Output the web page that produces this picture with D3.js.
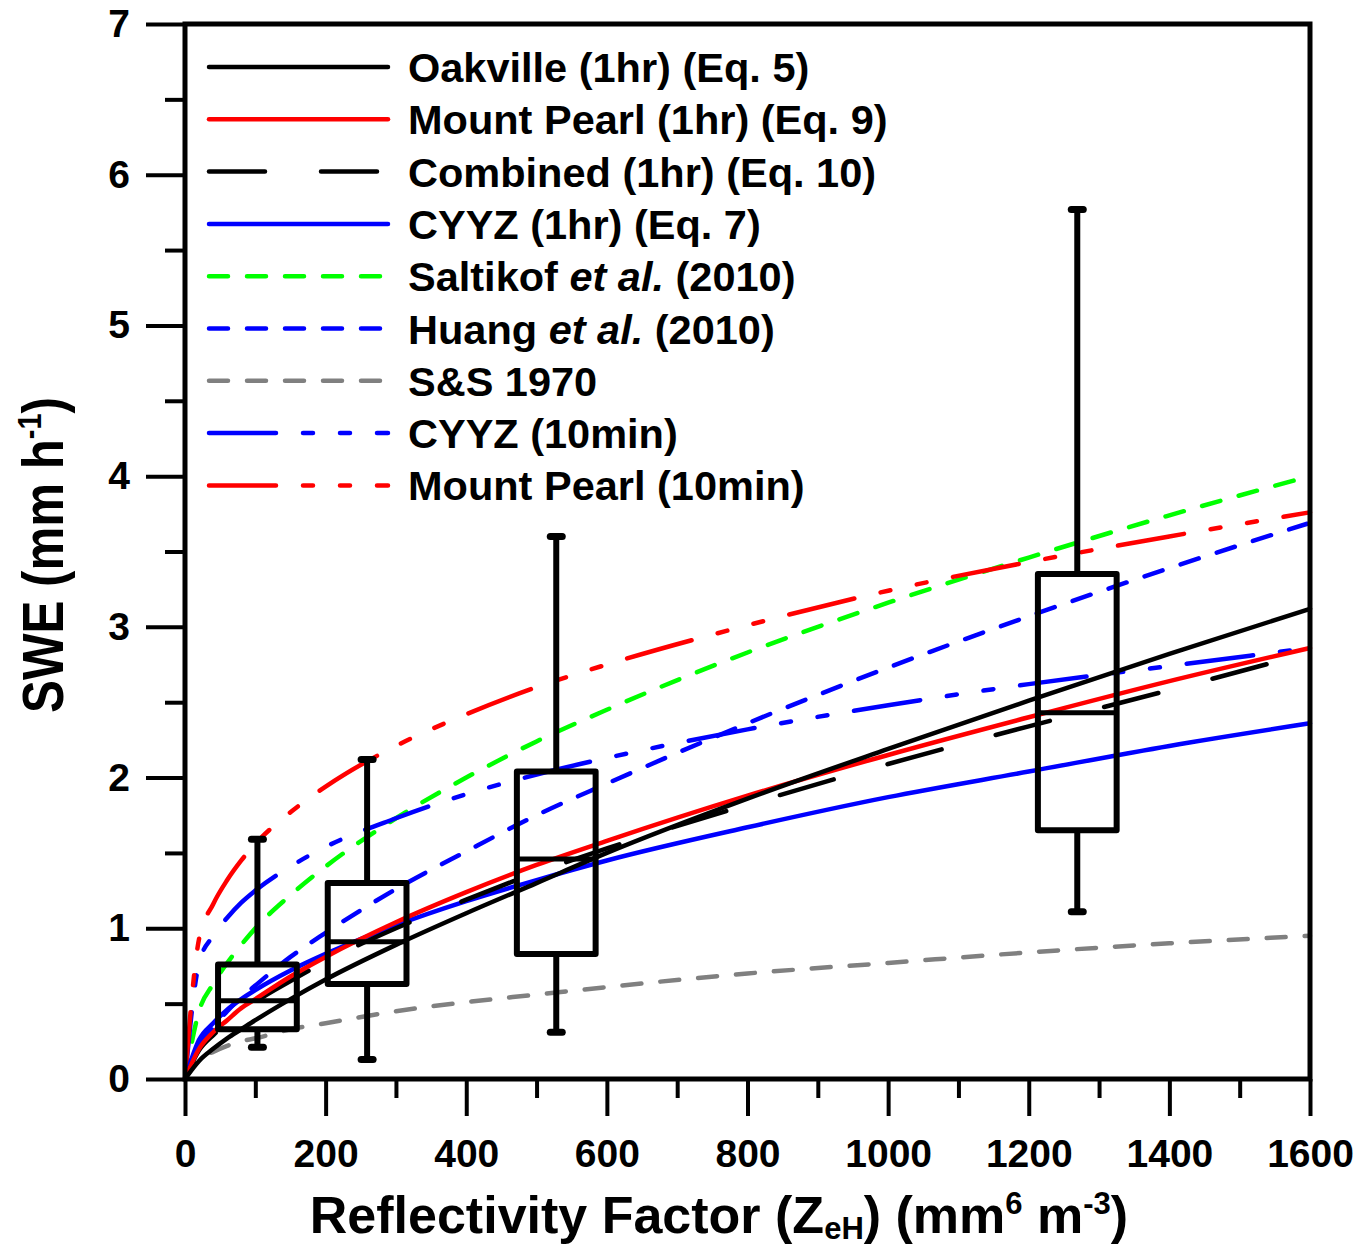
<!DOCTYPE html>
<html>
<head>
<meta charset="utf-8">
<script src="https://cdn.jsdelivr.net/npm/d3@7"></script>
<style>
    body { margin: 0; background: #fff; }
    text { font-family: "Liberation Sans", Arial, sans-serif; font-weight: bold; fill: #000; }
</style>
</head>
<body>
<div id="chart"></div>
<script>
// Reflectivity factor samples (mm6 m-3) at which the curves were read
const zGrid = [0, 20, 40, 60, 80, 100, 150, 200, 300, 400, 500, 600, 800, 1000, 1200, 1400, 1600];

// SWE (mm/h) at zGrid
const oakville1hr = [0, 0.12, 0.2, 0.27, 0.33, 0.39, 0.53, 0.66, 0.89, 1.1, 1.3, 1.5, 1.86, 2.19, 2.51, 2.82, 3.12];
const mountPearl1hr = [0, 0.2, 0.31, 0.39, 0.47, 0.53, 0.68, 0.81, 1.04, 1.24, 1.42, 1.58, 1.88, 2.15, 2.4, 2.64, 2.86];
const combined1hr = [0, 0.19, 0.29, 0.37, 0.44, 0.51, 0.65, 0.78, 1.0, 1.19, 1.37, 1.53, 1.82, 2.09, 2.34, 2.58, 2.83];
const cyyz1hr = [0, 0.26, 0.37, 0.46, 0.53, 0.59, 0.72, 0.83, 1.02, 1.18, 1.32, 1.45, 1.67, 1.87, 2.04, 2.21, 2.36];
const saltikof2010 = [0, 0.45, 0.63, 0.77, 0.89, 1.0, 1.22, 1.41, 1.73, 2.0, 2.24, 2.45, 2.83, 3.16, 3.46, 3.74, 4.0];
const huang2010 = [0, 0.22, 0.34, 0.45, 0.54, 0.62, 0.81, 0.97, 1.26, 1.51, 1.75, 1.96, 2.36, 2.73, 3.07, 3.39, 3.69];
const ss1970 = [0, 0.13, 0.18, 0.22, 0.25, 0.27, 0.33, 0.37, 0.45, 0.51, 0.56, 0.61, 0.7, 0.77, 0.84, 0.9, 0.95];
const cyyz10min = [0, 0.77, 0.95, 1.07, 1.17, 1.25, 1.41, 1.54, 1.73, 1.89, 2.02, 2.13, 2.32, 2.48, 2.62, 2.74, 2.86];
const mountPearl10min = [0, 0.93, 1.16, 1.32, 1.45, 1.56, 1.77, 1.94, 2.21, 2.42, 2.6, 2.75, 3.01, 3.24, 3.43, 3.6, 3.76];

// box plots (observed SWE per reflectivity bin)
const boxZ = [103, 259, 528, 1269];
const whiskerLow = [0.21, 0.13, 0.31, 1.11];
const boxLow = [0.33, 0.63, 0.83, 1.65];
const boxMedian = [0.52, 0.91, 1.46, 2.43];
const boxHigh = [0.76, 1.3, 2.04, 3.35];
const whiskerHigh = [1.59, 2.12, 3.6, 5.77];

// legend entries, in order
const legendLabels = [
    "Oakville (1hr) (Eq. 5)",
    "Mount Pearl (1hr) (Eq. 9)",
    "Combined (1hr) (Eq. 10)",
    "CYYZ (1hr) (Eq. 7)",
    "Saltikof et al. (2010)",
    "Huang et al. (2010)",
    "S&S 1970",
    "CYYZ (10min)",
    "Mount Pearl (10min)"
];

const xTicks = [0, 200, 400, 600, 800, 1000, 1200, 1400, 1600];
const yTicks = [0, 1, 2, 3, 4, 5, 6, 7];

/** Class drawing the SWE vs reflectivity chart. */
class SweChart {
    constructor() {
        this.width = 1363;
        this.height = 1246;
        this.x = d3.scaleLinear().domain([0, 1600]).range([185, 1310]);
        this.y = d3.scaleLinear().domain([0, 7]).range([1079, 24]);
        this.svg = d3.select("#chart").append("svg")
            .attr("width", this.width)
            .attr("height", this.height);

        const dashLong = "56,56";
        const dashShort = "19,19";
        const dashMix = "67,27,10,27,10,27";
        // style table, same order as the legend
        this.series = [
            {values: oakville1hr, color: "#000000", dash: null},
            {values: mountPearl1hr, color: "#ff0000", dash: null},
            {values: combined1hr, color: "#000000", dash: dashLong},
            {values: cyyz1hr, color: "#0000ff", dash: null},
            {values: saltikof2010, color: "#00ff00", dash: dashShort},
            {values: huang2010, color: "#0000ff", dash: dashShort},
            {values: ss1970, color: "#808080", dash: dashShort},
            {values: cyyz10min, color: "#0000ff", dash: dashMix},
            {values: mountPearl10min, color: "#ff0000", dash: dashMix}
        ];
    }

    drawAxes() {
        let x = this.x, y = this.y;
        let fmt = d3.format("d");

        let yMajor = this.svg.append("g")
            .attr("transform", "translate(185,0)")
            .call(d3.axisLeft(y).tickValues(yTicks).tickSize(39).tickPadding(16).tickFormat(fmt));
        let yMinor = this.svg.append("g")
            .attr("transform", "translate(185,0)")
            .call(d3.axisLeft(y).tickValues(yTicks.slice(0, -1).map(d => d + 0.5)).tickSize(20).tickFormat(""));
        let xMajor = this.svg.append("g")
            .attr("transform", "translate(0,1079)")
            .call(d3.axisBottom(x).tickValues(xTicks).tickSize(37).tickPadding(23).tickFormat(fmt));
        let xMinor = this.svg.append("g")
            .attr("transform", "translate(0,1079)")
            .call(d3.axisBottom(x).tickValues(xTicks.slice(0, -1).map(d => d + 100)).tickSize(19).tickFormat(""));

        for (let g of [yMajor, yMinor, xMajor, xMinor]) {
            g.select(".domain").remove();
            g.selectAll(".tick line").attr("stroke", "#000").attr("stroke-width", 4);
            g.selectAll(".tick text")
                .style("font-family", "'Liberation Sans', Arial, sans-serif")
                .style("font-weight", "bold")
                .style("font-size", "39px")
                .attr("fill", "#000");
        }

        // frame
        this.svg.append("rect")
            .attr("x", x(0)).attr("y", y(7))
            .attr("width", x(1600) - x(0))
            .attr("height", y(0) - y(7))
            .attr("fill", "none")
            .attr("stroke", "#000")
            .attr("stroke-width", 5);

        // y title
        let yt = this.svg.append("text")
            .attr("transform", "translate(63,555) rotate(-90) scale(0.85,1)")
            .attr("text-anchor", "middle")
            .style("font-size", "58px");
        yt.append("tspan").text("SWE (mm h");
        yt.append("tspan").attr("dy", -22).style("font-size", "34px").text("-1");
        yt.append("tspan").attr("dy", 22).text(")");

        // x title
        let xt = this.svg.append("text")
            .attr("x", 719).attr("y", 1233)
            .attr("text-anchor", "middle")
            .style("font-size", "52px");
        xt.append("tspan").text("Reflectivity Factor (Z");
        xt.append("tspan").attr("dy", 6).style("font-size", "31px").text("eH");
        xt.append("tspan").attr("dy", -6).text(") (mm");
        xt.append("tspan").attr("dy", -19).style("font-size", "31px").text("6");
        xt.append("tspan").attr("dy", 19).text(" m");
        xt.append("tspan").attr("dy", -19).style("font-size", "31px").text("-3");
        xt.append("tspan").attr("dy", 19).text(")");
    }

    drawCurves() {
        let x = this.x, y = this.y;
        let line = d3.line()
            .x(d => x(d[0]))
            .y(d => y(d[1]))
            .curve(d3.curveMonotoneX);

        // draw back to front
        let order = [6, 4, 5, 7, 8, 3, 2, 1, 0];
        let g = this.svg.append("g").attr("class", "curves");
        for (let i of order) {
            let s = this.series[i];
            g.append("path")
                .datum(zGrid.map((z, k) => [z, s.values[k]]))
                .attr("d", line)
                .attr("fill", "none")
                .attr("stroke", s.color)
                .attr("stroke-width", 4.5)
                .attr("stroke-linecap", "round")
                .attr("stroke-dasharray", s.dash);
        }
    }

    drawBoxes() {
        let x = this.x, y = this.y;
        let halfW = 56;
        let g = this.svg.append("g").attr("class", "boxes")
            .attr("stroke", "#000")
            .attr("fill", "none");

        boxZ.forEach(function (z, i) {
            g.append("line")
                .attr("x1", x(z)).attr("x2", x(z))
                .attr("y1", y(boxHigh[i])).attr("y2", y(whiskerHigh[i]))
                .attr("stroke-width", 6);
            g.append("line")
                .attr("x1", x(z)).attr("x2", x(z))
                .attr("y1", y(boxLow[i])).attr("y2", y(whiskerLow[i]))
                .attr("stroke-width", 6);
            for (let v of [whiskerHigh[i], whiskerLow[i]]) {
                g.append("line")
                    .attr("x1", x(z) - 6).attr("x2", x(z) + 6)
                    .attr("y1", y(v)).attr("y2", y(v))
                    .attr("stroke-width", 7)
                    .attr("stroke-linecap", "round");
            }
            g.append("rect")
                .attr("x", x(z - halfW))
                .attr("y", y(boxHigh[i]))
                .attr("width", x(z + halfW) - x(z - halfW))
                .attr("height", y(boxLow[i]) - y(boxHigh[i]))
                .attr("stroke-width", 6)
                .attr("stroke-linejoin", "round");
            g.append("line")
                .attr("x1", x(z - halfW)).attr("x2", x(z + halfW))
                .attr("y1", y(boxMedian[i])).attr("y2", y(boxMedian[i]))
                .attr("stroke-width", 5);
        });
    }

    drawLegend() {
        let g = this.svg.append("g").attr("class", "legend");
        let series = this.series;
        legendLabels.forEach(function (label, i) {
            let rowY = 67 + i * 52.3;
            let s = series[i];
            g.append("line")
                .attr("x1", 209).attr("x2", 388)
                .attr("y1", rowY).attr("y2", rowY)
                .attr("stroke", s.color)
                .attr("stroke-width", 4.5)
                .attr("stroke-linecap", "round")
                .attr("stroke-dasharray", s.dash);

            let t = g.append("text")
                .attr("x", 408).attr("y", rowY + 15)
                .style("font-size", "41.5px");
            let parts = label.split("et al.");
            if (parts.length > 1) {
                t.append("tspan").text(parts[0]);
                t.append("tspan").style("font-style", "italic").text("et al.");
                t.append("tspan").text(parts[1]);
            } else {
                t.text(label);
            }
        });
    }
}

let chart = new SweChart();
chart.drawCurves();
chart.drawBoxes();
chart.drawAxes();
chart.drawLegend();
</script>
</body>
</html>
